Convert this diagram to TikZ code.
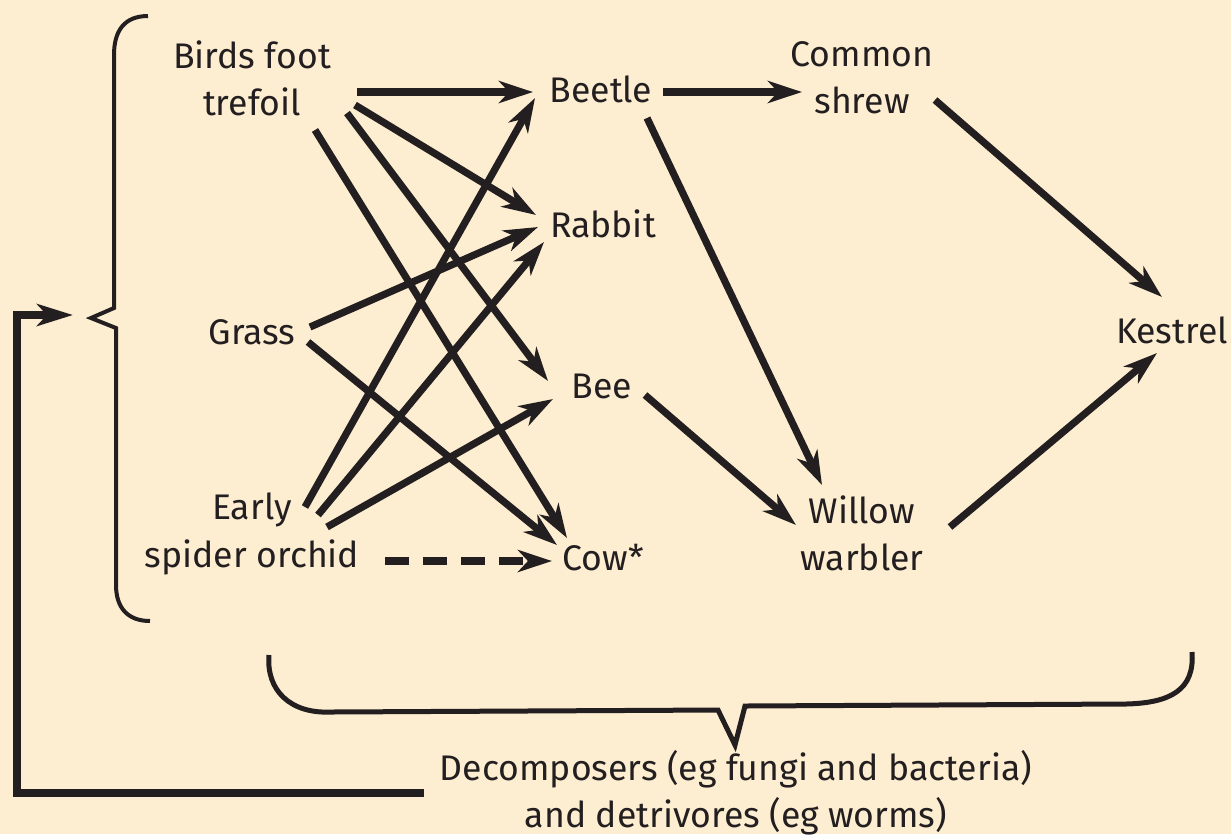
\documentclass[tikz,border=0pt]{standalone}
\usepackage{fontspec}
\setmainfont{Fira Sans}
\usetikzlibrary{arrows.meta,calc}
\definecolor{paper}{RGB}{253,238,209}
\definecolor{ink}{RGB}{35,31,32}

\begin{document}
\begin{tikzpicture}[x=0.5pt, y=-0.5pt]

\tikzset{
  species/.style={
    align=center, inner sep=0pt, text=ink,
    font=\fontsize{17.8}{23.6}\selectfont
  },
  arrow/.style={-{Stealth[length=17pt, width=11pt, inset=5pt]}, line width=3.6pt, draw=ink},
  dashedarrow/.style={arrow, dash pattern=on 12pt off 7pt},
  brace/.style={draw=ink, line width=2pt},
  loopback/.style={-{Stealth[length=18pt, width=11pt, inset=5pt]}, line width=3.8pt, draw=ink}
}

\fill[paper] (0,0) rectangle (1231,834);

% =========================================================
% Producers, consumers
% =========================================================
\node[species] (trefoil) at (252,78)  {Birds foot\\trefoil};
\node[species] (grass)   at (252,332) {Grass};
\node[species] (orchid)  at (252,534) {Early\\spider orchid};

\node[species] (beetle)  at (601,89)  {Beetle};
\node[species] (rabbit)  at (603,224) {Rabbit};
\node[species] (bee)     at (602,386) {Bee};
\node[species] (cow)     at (603,558) {Cow*};

\node[species] (shrew)   at (862,78)  {Common\\shrew};
\node[species] (willow)  at (862,533) {Willow\\warbler};
\node[species] (kestrel) at (1172,330) {Kestrel};

\node[species] (decomp)  at (736,793) {Decomposers (eg fungi and bacteria)\\and detrivores (eg worms)};

% =========================================================
% Feeding links
% =========================================================
\draw[arrow] ($(trefoil)+(105,14)$) -- ($(beetle)+(-68,3)$);
\draw[arrow] ($(trefoil)+(103,27)$) -- ($(rabbit)+(-67,-9)$);
\draw[arrow] ($(trefoil)+(95,35)$)  -- ($(bee)+(-54,-5)$);
\draw[arrow] ($(trefoil)+(63,52)$)  -- ($(cow)+(-36,-20)$);

\draw[arrow] ($(grass)+(58,-5)$) -- ($(rabbit)+(-65,3)$);
\draw[arrow] ($(grass)+(56,10)$) -- ($(cow)+(-46,-13)$);

\draw[arrow] ($(orchid)+(53,-27)$) -- ($(beetle)+(-66,9)$);
\draw[arrow] ($(orchid)+(66,-19)$) -- ($(rabbit)+(-59,18)$);
\draw[arrow] ($(orchid)+(75,-7)$)  -- ($(bee)+(-49,13)$);
\draw[dashedarrow] ($(orchid)+(133,27)$) -- ($(cow)+(-51,3)$);

\draw[arrow] ($(beetle)+(62,3)$)  -- ($(shrew)+(-60,14)$);
\draw[arrow] ($(beetle)+(46,29)$) -- ($(willow)+(-40,-48)$);
\draw[arrow] ($(bee)+(43,9)$)     -- ($(willow)+(-66,-8)$);

\draw[arrow] ($(shrew)+(73,22)$)  -- ($(kestrel)+(-10,-33)$);
\draw[arrow] ($(willow)+(88,-6)$) -- ($(kestrel)+(-15,23)$);

% =========================================================
% Braces and decomposer loop
% =========================================================
\draw[brace] (148,16) .. controls (125,16) and (114,30) .. (114,55)
  -- (114,308) -- (91,318) -- (116,328) -- (116,585)
  .. controls (116,608) and (128,621) .. (150,621);
\coordinate (cusp) at (73,315);

\draw[brace, line width=2.5pt] (269,655) .. controls (266,690) and (290,714) .. (331,712)
  -- (718,710) -- (735,745) -- (745,706) -- (1126,704)
  .. controls (1170,703) and (1195,690) .. (1192,652);

\draw[loopback] ([xshift=-8pt]decomp.west) -| ($(cusp)+(-56,0)$) -- (cusp);

\end{tikzpicture}
\end{document}
